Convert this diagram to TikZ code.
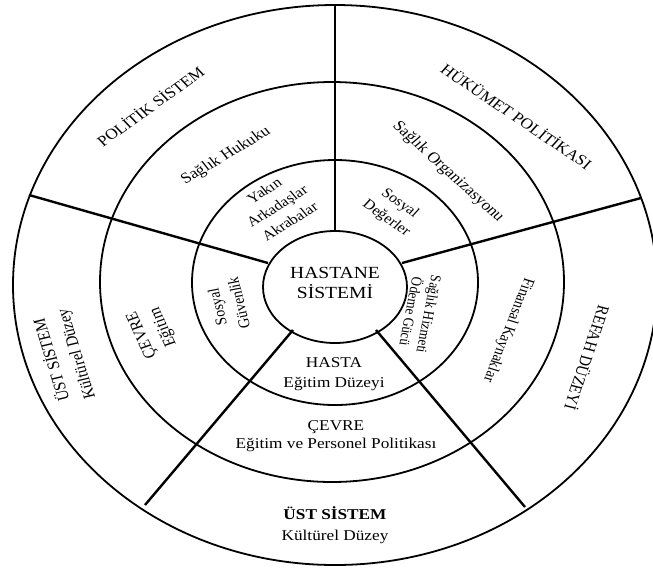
\documentclass[tikz,border=0pt]{standalone}
\usepackage{fontspec}
\setmainfont{Liberation Serif}
\begin{document}
\begin{tikzpicture}[x=0.5pt,y=-0.5pt,
  ring/.style={line width=0.9pt},
  spoke/.style={line width=1.2pt},
  lbl/.style={inner sep=0pt, align=center, xscale=1.15,
    font=\fontsize{7.5}{10}\selectfont},
  small/.style={lbl, font=\fontsize{7}{9.5}\selectfont},
  tiny/.style={lbl, font=\fontsize{6.5}{8}\selectfont}]
\useasboundingbox (0,0) rectangle (653,569);
\clip (0,0) rectangle (653,569);

% rings (centre, half-axes in pt)
\draw[ring] (335,285) ellipse [x radius=161pt, y radius=140pt];
\draw[ring] (332,282) ellipse [x radius=116pt, y radius=100pt];
\draw[ring] (335,282.5) ellipse [x radius=71.5pt, y radius=61.25pt];
\draw[ring,fill=white] (335,287) ellipse [x radius=36pt, y radius=28pt];

% spoke ends
\coordinate (a1) at (335,231);  \coordinate (b1) at (335,5);
\coordinate (a2) at (268,263);  \coordinate (b2) at (29,195);
\coordinate (a3) at (402,263);  \coordinate (b3) at (641,198);
\coordinate (a4) at (293,330);  \coordinate (b4) at (145,505);
\coordinate (a5) at (376,330);  \coordinate (b5) at (525,507);
\foreach \i in {1,...,5} \draw[spoke] (a\i) -- (b\i);

% centre
\node[lbl, font=\fontsize{8.5}{10}\selectfont] (hastane) at (335,283) {HASTANE\\SİSTEMİ};

% upper left sector
\node[lbl, rotate=39.2] (politik) at (150,106) {POLİTİK SİSTEM};
\node[lbl, rotate=34.5] (hukuk) at (226,156) {Sağlık Hukuku};
\node[small, rotate=35.7] (yakin) at (277,206) {Yakın\\Arkadaşlar\\Akrabalar};

% upper right sector
\node[lbl, rotate=-37.7] (hukumet) at (517,116) {HÜKÜMET POLİTİKASI};
\node[lbl, rotate=-46] (org) at (448,172) {Sağlık Organizasyonu};
\node[small, rotate=-38.8] (degerler) at (393,211) {Sosyal\\Değerler};

% right sector
\node[tiny, rotate=-99.6] (odeme) at (420,313) {Sağlık Hizmeti\\Ödeme Gücü};
\node[small, rotate=-109.2] (finans) at (508,330) {Finansal Kaynaklar};
\node[lbl, rotate=-106.3] (refah) at (588,358) {REFAH DÜZEYİ};

% lower sector
\node[lbl] (hasta) at (334,374) {HASTA\\Eğitim Düzeyi};
\node[lbl, font=\fontsize{7.5}{9}\selectfont] (cevre) at (336,436) {ÇEVRE\\Eğitim ve Personel Politikası};
\node[lbl, font=\fontsize{7.5}{10.5}\selectfont] (ust) at (335,525) {\textbf{ÜST SİSTEM}\\Kültürel Düzey};

% left sector
\node[lbl, font=\fontsize{7.5}{11}\selectfont, rotate=105.2] (ustsol) at (64,357) {ÜST SİSTEM\\Kültürel Düzey};
\node[lbl, rotate=112] (cevresol) at (153,331) {ÇEVRE\\Eğitim};
\node[small, rotate=102.2] (guvenlik) at (228,305) {Sosyal\\Güvenlik};
\end{tikzpicture}
\end{document}
